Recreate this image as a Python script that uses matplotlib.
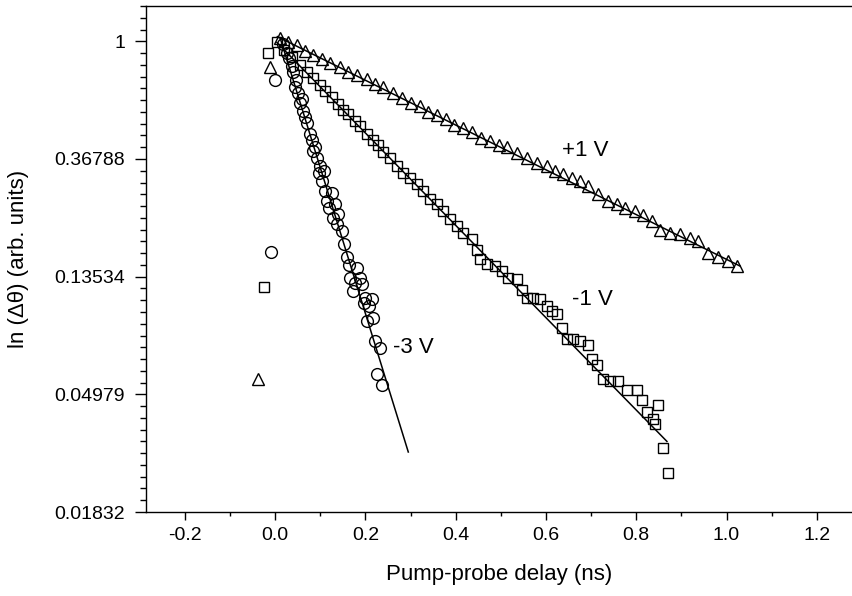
import numpy as np
import matplotlib
matplotlib.use('Agg')
import matplotlib.pyplot as plt
from matplotlib.ticker import MultipleLocator, FixedLocator, FixedFormatter

plt.rcParams['font.family'] = ['Liberation Sans', 'DejaVu Sans']

# -3 V (circles), values are ln(dtheta)
t_m3 = [-0.009, 0.000, 0.018, 0.027, 0.030, 0.038, 0.040, 0.044, 0.047, 0.051, 0.055,
        0.060, 0.062, 0.067, 0.071, 0.078, 0.082, 0.084, 0.088, 0.093, 0.097, 0.100,
        0.104, 0.108, 0.111, 0.115, 0.120, 0.126, 0.129, 0.133, 0.137, 0.140, 0.148,
        0.152, 0.159, 0.163, 0.166, 0.173, 0.178, 0.182, 0.188, 0.193, 0.196, 0.199,
        0.204, 0.209, 0.215, 0.217, 0.221, 0.226, 0.233, 0.237]
ln_m3 = [-1.79, -0.33, -0.02, -0.10, -0.14, -0.21, -0.26, -0.39, -0.33, -0.44, -0.52,
         -0.49, -0.59, -0.64, -0.69, -0.79, -0.84, -0.93, -0.90, -0.99, -1.12, -1.06,
         -1.19, -1.10, -1.27, -1.36, -1.42, -1.29, -1.50, -1.38, -1.55, -1.47, -1.61,
         -1.72, -1.83, -1.90, -2.01, -2.12, -2.05, -1.93, -2.01, -2.06, -2.22, -2.18,
         -2.38, -2.25, -2.19, -2.35, -2.55, -2.83, -2.61, -2.92]

# -1 V (squares)
t_m1 = [-0.024, -0.016, 0.004, 0.020, 0.037, 0.055, 0.071, 0.084, 0.100, 0.111, 0.126,
        0.140, 0.151, 0.162, 0.177, 0.188, 0.204, 0.217, 0.228, 0.239, 0.255, 0.270,
        0.284, 0.299, 0.315, 0.328, 0.343, 0.359, 0.372, 0.388, 0.403, 0.416, 0.436,
        0.447, 0.454, 0.470, 0.487, 0.503, 0.516, 0.536, 0.547, 0.558, 0.571, 0.587,
        0.602, 0.614, 0.625, 0.636, 0.647, 0.660, 0.676, 0.693, 0.702, 0.713, 0.726,
        0.742, 0.760, 0.780, 0.802, 0.813, 0.824, 0.837, 0.842, 0.848, 0.859, 0.870]
ln_m1 = [-2.09, -0.10, -0.01, -0.07, -0.13, -0.20, -0.26, -0.31, -0.37, -0.42, -0.47,
         -0.53, -0.58, -0.62, -0.68, -0.72, -0.79, -0.84, -0.88, -0.94, -0.99, -1.06,
         -1.12, -1.16, -1.21, -1.27, -1.34, -1.38, -1.44, -1.51, -1.57, -1.63, -1.68,
         -1.77, -1.85, -1.89, -1.91, -1.95, -2.01, -2.02, -2.11, -2.18, -2.18, -2.19,
         -2.25, -2.29, -2.32, -2.44, -2.53, -2.53, -2.55, -2.58, -2.70, -2.75, -2.87,
         -2.89, -2.89, -2.96, -2.96, -3.05, -3.15, -3.21, -3.25, -3.09, -3.46, -3.67]

# +1 V (triangles)
t_p1 = [-0.037, -0.011, 0.011, 0.029, 0.049, 0.066, 0.084, 0.104, 0.122, 0.144, 0.162,
        0.182, 0.204, 0.222, 0.239, 0.261, 0.281, 0.300, 0.320, 0.339, 0.359, 0.378,
        0.397, 0.417, 0.436, 0.456, 0.475, 0.495, 0.514, 0.536, 0.558, 0.580, 0.602,
        0.620, 0.638, 0.658, 0.676, 0.693, 0.715, 0.738, 0.757, 0.775, 0.797, 0.815,
        0.835, 0.853, 0.875, 0.897, 0.919, 0.937, 0.959, 0.981, 1.003, 1.023]
ln_p1 = [-2.87, -0.22, 0.03, -0.01, -0.03, -0.08, -0.12, -0.15, -0.18, -0.22, -0.26,
         -0.29, -0.32, -0.36, -0.39, -0.44, -0.48, -0.52, -0.55, -0.60, -0.63, -0.66,
         -0.71, -0.74, -0.77, -0.82, -0.85, -0.88, -0.90, -0.95, -0.99, -1.03, -1.06,
         -1.10, -1.13, -1.16, -1.19, -1.23, -1.30, -1.36, -1.38, -1.42, -1.44, -1.48,
         -1.53, -1.60, -1.63, -1.64, -1.67, -1.70, -1.80, -1.83, -1.87, -1.91]

# straight-line fits (end points)
fit_m3_t = [0.011, 0.295]
fit_m3_ln = [0.03, -3.49]
fit_m1_t = [0.004, 0.868]
fit_m1_ln = [-0.01, -3.40]
fit_p1_t = [0.005, 1.030]
fit_p1_ln = [0.04, -1.91]

ytick_pos = [0, -1, -2, -3, -4]
ytick_labels = ['1', '0.36788', '0.13534', '0.04979', '0.01832']

fig = plt.figure(figsize=(8.52, 5.96), dpi=100)
ax = fig.add_axes([0.1714, 0.1409, 0.8286, 0.8490])

mk = dict(linestyle='none', mfc='none', mec='black', mew=1.0)
ax.plot(t_m3, ln_m3, marker='o', markersize=8.5, **mk)
ax.plot(t_m1, ln_m1, marker='s', markersize=7.5, **mk)
ax.plot(t_p1, ln_p1, marker='^', markersize=8.5, **mk)

ax.plot(fit_m3_t, fit_m3_ln, color='black', linewidth=1.1)
ax.plot(fit_m1_t, fit_m1_ln, color='black', linewidth=1.1)
ax.plot(fit_p1_t, fit_p1_ln, color='black', linewidth=1.1)

ax.text(0.306, -2.60, '-3 V', fontsize=16, ha='center', va='center')
ax.text(0.704, -2.19, '-1 V', fontsize=16, ha='center', va='center')
ax.text(0.687, -0.93, '+1 V', fontsize=16, ha='center', va='center')

ax.set_xlim(-0.286, 1.278)
ax.set_ylim(-4, 0.30)

ax.xaxis.set_major_locator(MultipleLocator(0.2))
ax.xaxis.set_minor_locator(MultipleLocator(0.1))
ax.xaxis.set_major_formatter(plt.FuncFormatter(lambda v, p: '%.1f' % v))
ax.yaxis.set_major_locator(FixedLocator(ytick_pos))
ax.yaxis.set_major_formatter(FixedFormatter(ytick_labels))
ax.yaxis.set_minor_locator(MultipleLocator(0.1))

ax.tick_params(axis='both', which='both', direction='out', top=False, right=False,
               labelsize=14, width=1.0)
ax.tick_params(axis='x', which='major', length=6, pad=5)
ax.tick_params(axis='x', which='minor', length=3)
ax.tick_params(axis='y', which='major', length=8, pad=7)
ax.tick_params(axis='y', which='minor', length=4)

ax.spines['right'].set_visible(False)
for s in ['left', 'bottom', 'top']:
    ax.spines[s].set_linewidth(1.0)

ax.set_xlabel('Pump-probe delay (ns)', fontsize=16, labelpad=14)
ax.set_ylabel('ln (Δθ) (arb. units)', fontsize=16, labelpad=18)

fig.savefig('out.png', dpi=100)
